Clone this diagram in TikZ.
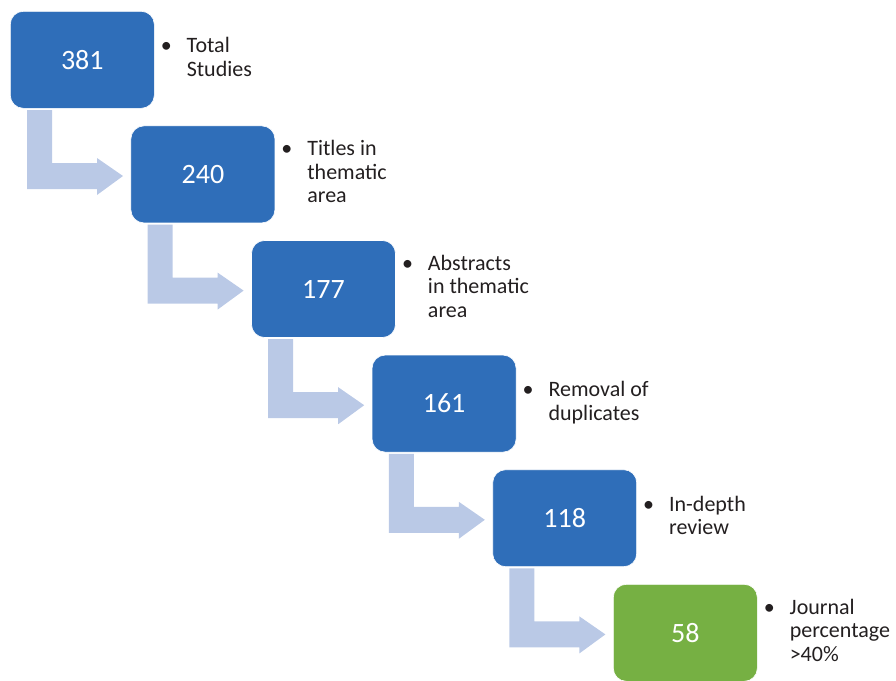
\documentclass[tikz,border=0pt]{standalone}
\usepackage{fontspec}
\setmainfont{Carlito}
\usetikzlibrary{calc}
\definecolor{boxblue}{HTML}{2F6EB9}
\definecolor{boxgreen}{HTML}{76B043}
\definecolor{arrowfill}{HTML}{BAC9E6}
\definecolor{txtcol}{HTML}{231F20}
\tikzset{
  stepbox/.style={rectangle, rounded corners=13pt, fill=boxblue, draw=white, line width=0.6pt,
    minimum width=144pt, minimum height=97pt, inner sep=0pt, anchor=north west,
    text=white, font=\fontsize{28}{30}\selectfont},
  greenbox/.style={stepbox, fill=boxgreen},
  bullettxt/.style={anchor=west, inner sep=0pt, text=txtcol, font=\fontsize{22}{23.5}\selectfont},
  bentarrow/.style={fill=arrowfill, draw=none}
}
\newcommand{\bul}[1]{\begin{tabular}{@{}l@{\hspace{15pt}}l@{}}#1\end{tabular}}
\begin{document}
\begin{tikzpicture}[x=1pt,y=-1pt]
\useasboundingbox (0,0) rectangle (896,680);
% boxes
\node[stepbox]  (b1) at (10,11)      {381};
\node[stepbox]  (b2) at (130.6,125.6) {240};
\node[stepbox]  (b3) at (251.2,240.2) {177};
\node[stepbox]  (b4) at (371.8,354.8) {161};
\node[stepbox]  (b5) at (492.4,469.4) {118};
\node[greenbox] (b6) at (613,584)    {58};
% bent arrows
\foreach \a/\b in {b1/b2,b2/b3,b3/b4,b4/b5,b5/b6}{
  \fill[bentarrow]
    ($(\a.north west)+(17,99)$) -- ($(\a.north west)+(42,99)$) --
    ($(\a.north west)+(42,152)$) -- ($(\a.north west)+(87,152)$) --
    ($(\a.north west)+(87,147)$) -- ($(\b.north west)+(-7.6,50.4)$) --
    ($(\a.north west)+(87,184)$) -- ($(\a.north west)+(87,178)$) --
    ($(\a.north west)+(17,178)$) -- cycle;
}
% bullet texts
\node[bullettxt] (t1) at ($(b1.east)+(6,0)$) {\bul{\textbullet & Total\\ & Studies}};
\node[bullettxt] (t2) at ($(b2.east)+(6,0)$) {\bul{\textbullet & Titles in\\ & thematic\\ & area}};
\node[bullettxt] (t3) at ($(b3.east)+(6,0)$) {\bul{\textbullet & Abstracts\\ & in thematic\\ & area}};
\node[bullettxt] (t4) at ($(b4.east)+(6,0)$) {\bul{\textbullet & Removal of\\ & duplicates}};
\node[bullettxt] (t5) at ($(b5.east)+(6,0)$) {\bul{\textbullet & In-depth\\ & review}};
\node[bullettxt] (t6) at ($(b6.east)+(6,0)$) {\bul{\textbullet & Journal\\ & percentage\\ & >40\%}};
\end{tikzpicture}
\end{document}
